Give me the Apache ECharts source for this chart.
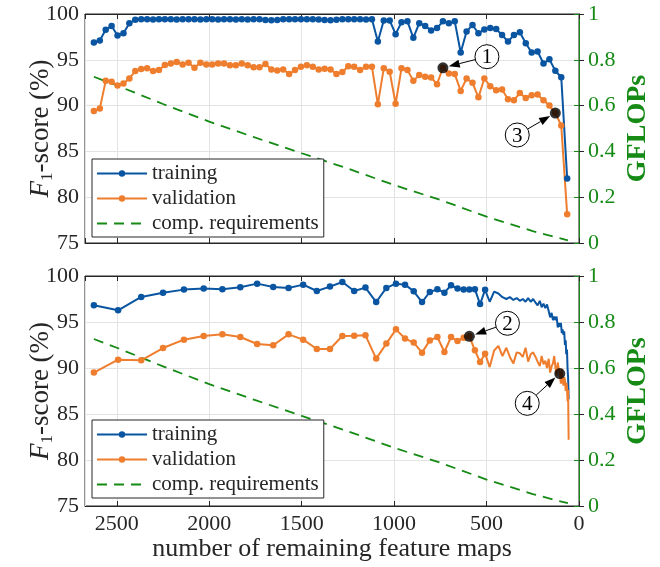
<!DOCTYPE html>
<html><head><meta charset="utf-8">
<script src="https://cdn.jsdelivr.net/npm/echarts@6/dist/echarts.min.js"></script>
<style>html,body{margin:0;padding:0;background:#fff}#c{width:660px;height:567px}</style>
</head><body><div id="c"></div>
<script>
// ---------- data ----------
const topX = [2624,2592,2560,2528,2496,2464,2432,2400,2368,2336,2304,2272,2240,2208,2176,2144,2112,2080,2048,2016,1984,1952,1920,1888,1856,1824,1792,1760,1728,1696,1664,1632,1600,1568,1536,1504,1472,1440,1408,1376,1344,1312,1280,1248,1216,1184,1152,1120,1088,1056,1024,992,960,928,896,864,832,800,768,736,704,672,640,608,576,544,512,480,448,416,384,352,320,288,256,224,192,160,128,96,64];
const topTrain = [96.88,97.1,98.27,98.7,97.65,97.9,99.0,99.37,
  99.42,99.42,99.4,99.42,99.42,99.42,99.4,99.42,99.42,99.42,
  99.4,99.42,99.42,99.4,99.42,99.42,99.4,99.42,99.4,99.42,
  99.42,99.35,99.33,99.35,99.42,99.42,99.42,99.42,99.42,99.42,
  99.4,99.35,99.33,99.38,99.42,99.42,99.42,99.42,99.4,99.42,
  97.0,99.3,99.3,97.8,99.1,99.2,97.4,99.0,98.7,98.2,
  98.46,99.2,99.0,99.2,95.8,98.1,98.8,97.9,98.3,98.46,
  98.35,97.7,97.0,97.7,98.0,96.8,95.8,95.9,94.6,95.05,
  93.8,93.1,82.05];
const topVal = [89.4,89.67,92.7,92.6,92.2,92.4,92.96,93.77,93.99,94.07,
  93.77,93.88,94.43,94.6,94.76,94.5,94.68,94.13,94.68,94.5,
  94.5,94.6,94.6,94.4,94.4,94.6,94.4,94.18,94.18,94.54,
  93.95,93.84,93.95,93.44,93.88,94.24,94.4,94.24,93.95,94.02,
  93.95,93.44,93.66,94.3,94.24,93.88,94.24,94.24,
  90.14,94.07,93.7,90.2,94.07,93.88,92.7,93.33,93.14,93.07,
  92.34,94.13,93.5,93.44,91.6,92.96,92.49,90.9,92.96,92.12,
  91.68,91.76,90.7,90.58,91.38,90.84,91.13,91.2,90.58,90.0,
  89.19,87.83,78.13];

const botX = [2624,2493,2368,2250,2137,2030,1929,1832,1741,1654,1571,1492,1418,1347,1280,1216,1155,1097,1042,990,941,894,849,807,766,728,692,657,624,593,563,535,508,483,459,436,414,393,374,355,337,320,304,289,275,261,248,235,224,212,202,192,182,173,164,156,148,141,134,127,121,115,109,104,98,93,89,84,80,76,72,69,65,62,59,56];
const botTrain = [96.81,96.27,97.72,98.19,98.52,98.63,98.55,98.77,99.17,98.8,
  98.7,99.06,98.37,98.85,99.35,98.37,98.74,97.17,98.7,99.17,
  99.06,98.34,97.17,98.26,98.55,98.19,98.99,98.63,98.52,98.52,
  98.55,96.95,98.5,97.2,98.3,98.1,97.7,97.5,97.7,97.4,
  97.6,97.3,97.5,97.2,97.6,97.2,97.5,97.1,96.8,97.3,
  96.6,97.0,96.5,96.9,96.2,95.5,96.0,95.2,95.6,95.2,
  95.6,94.4,94.9,94.5,94.9,93.8,94.2,93.6,94.0,92.5,
  93.0,91.5,92.0,90.0,89.0,86.6];
const botVal = [89.5,90.91,90.84,92.17,93.08,93.48,93.66,93.37,92.61,92.47,
  93.66,93.08,92.07,92.07,93.48,93.5,93.55,91.02,92.65,94.2,
  93.2,92.76,91.67,93.0,93.37,91.74,93.37,92.93,93.3,93.44,
  91.92,90.65,91.56,90.1,91.9,92.4,91.3,92.2,91.2,90.5,
  91.7,91.6,91.2,92.2,90.7,91.5,91.7,91.2,90.7,90.2,
  91.3,90.4,90.8,90.0,91.0,89.5,90.2,90.5,91.3,90.0,
  89.2,90.6,89.8,89.4,88.3,89.9,88.7,88.1,89.0,88.7,
  87.5,88.4,87.9,86.4,87.6,82.2];

const compX = [2624,2500,2250,2000,1750,1500,1250,1000,750,500,250,110,60];
const compG = [0.726,0.688,0.607,0.530,0.460,0.392,0.325,0.253,0.188,0.115,0.052,0.022,0.012];

const seriesNames = ['training','validation','comp. requirements'];

// annotations (data coordinates)
const annGrid = [0,1,0,1];
const annNum  = ['1','2','3','4'];
const annDotX = [736,593,128,104];
const annDotY = [94.13,93.44,89.19,89.4];
const annLabX = [498,387,334,280];
const annLabY = [95.34,94.86,86.79,86.16];

// ---------- chart ----------
const FONT = 'Liberation Serif';
const BLUE = '#0a55a1', ORANGE = '#ee7e2e', GREEN = '#158a15', INK = '#262626', GRIDC = '#e3e3e3';
const zip = (xs, ys) => xs.map((x,i)=>[x, ys[i]]);

const chart = echarts.init(document.getElementById('c'));
const grids = [{left:85, right:77, top:14, height:229, show:true, borderColor:INK, borderWidth:1},
               {left:85, right:77, top:276, height:230, show:true, borderColor:INK, borderWidth:1}];

function xAx(g, pos, labels){
  return {type:'value', gridIndex:g, position:pos, min:0, max:2672, interval:500, inverse:true,
    axisLine:{show:true, onZero:false, lineStyle:{color:INK, width:1}},
    axisTick:{show:true, inside:true, length:5, lineStyle:{color:INK}},
    axisLabel:{show:labels, showMaxLabel:false, fontFamily:FONT, fontSize:22, color:INK, margin:7,
      formatter: v => String(v)},
    splitLine:{show: pos==='bottom', lineStyle:{color:GRIDC, width:1}},
    name: (labels ? 'number of remaining feature maps' : ''), nameLocation:'middle', nameGap:30,
    nameMoveOverlap:false,
    nameTextStyle:{fontFamily:FONT, fontSize:26, color:INK}};
}
function yLeft(g){
  return {type:'value', gridIndex:g, position:'left', min:75, max:100, interval:5,
    axisLine:{show:true, lineStyle:{color:INK}},
    axisTick:{show:true, inside:true, length:5, lineStyle:{color:INK}},
    axisLabel:{fontFamily:FONT, fontSize:22, color:INK, margin:6},
    splitLine:{show:true, lineStyle:{color:GRIDC, width:1}},
    name:'{i|F}{s|1}-score (%)', nameLocation:'middle', nameGap:29, nameRotate:90,
    nameMoveOverlap:false,
    nameTextStyle:{fontFamily:FONT, fontSize:27, color:INK,
      rich:{i:{fontFamily:FONT, fontSize:27, fontStyle:'italic', color:INK},
            s:{fontFamily:FONT, fontSize:17, color:INK, padding:[14,0,0,0]}}}};
}
function yRight(g){
  return {type:'value', gridIndex:g, position:'right', min:0, max:1, interval:0.2,
    axisLine:{show:true, lineStyle:{color:GREEN}},
    axisTick:{show:true, inside:true, length:5, lineStyle:{color:GREEN}},
    axisLabel:{fontFamily:FONT, fontSize:22, color:GREEN, margin:9},
    splitLine:{show:false},
    name:'GFLOPs', nameLocation:'middle', nameGap:45, nameRotate:90,
    nameMoveOverlap:false,
    nameTextStyle:{fontFamily:FONT, fontSize:28, fontWeight:'bold', color:GREEN}};
}

function lineSeries(name, xi, yi, data, color, symFn){
  return {name, type:'line', xAxisIndex:xi, yAxisIndex:yi, data, color,
    symbol:'circle', symbolSize: symFn, showSymbol:true, showAllSymbol:true,
    lineStyle:{width:2, color}, itemStyle:{color}, z:3, animation:false, silent:true};
}
function compSeries(xi, yi){
  return {name:seriesNames[2], type:'line', xAxisIndex:xi, yAxisIndex:yi, data:zip(compX, compG),
    symbol:'none', color:GREEN, lineStyle:{width:1.8, type:[10,7], color:GREEN}, itemStyle:{color:GREEN},
    z:2, animation:false, silent:true};
}
function legendAt(top){
  return {show:true, left:92, top, orient:'vertical', selectedMode:false,
    data:[seriesNames[0], seriesNames[1], {name:seriesNames[2], itemStyle:{opacity:0}}],
    itemWidth:50, itemHeight:8, itemGap:4, padding:[4,5,3,4],
    borderColor:INK, borderWidth:1, backgroundColor:'#fff',
    textStyle:{fontFamily:FONT, fontSize:21, color:INK, lineHeight:20}};
}

const option = {
  animation:false,
  grid: grids,
  xAxis: [xAx(0,'bottom',false), xAx(1,'bottom',true), xAx(0,'top',false), xAx(1,'top',false)],
  yAxis: [yLeft(0), yRight(0), yLeft(1), yRight(1)],
  legend: [legendAt(159), legendAt(420)],
  series: [
    lineSeries(seriesNames[0], 0, 0, zip(topX, topTrain), BLUE, 6.5),
    lineSeries(seriesNames[1], 0, 0, zip(topX, topVal), ORANGE, 6.5),
    compSeries(0, 1),
    lineSeries(seriesNames[0], 1, 2, zip(botX, botTrain), BLUE, v => (v[0] >= 500 ? 6.5 : 0)),
    lineSeries(seriesNames[1], 1, 2, zip(botX, botVal), ORANGE, v => (v[0] >= 500 ? 6.5 : 0)),
    compSeries(1, 3),
    {type:'scatter', name:'ann0', xAxisIndex:0, yAxisIndex:0, symbolSize:11, itemStyle:{color:'#000'}, z:10,
     data: annDotX.map((x,i)=>[x, annDotY[i], i]).filter((d)=>annGrid[d[2]]===0), silent:true},
    {type:'scatter', name:'ann1', xAxisIndex:1, yAxisIndex:2, symbolSize:11, itemStyle:{color:'#000'}, z:10,
     data: annDotX.map((x,i)=>[x, annDotY[i], i]).filter((d)=>annGrid[d[2]]===1), silent:true}
  ]
};
chart.setOption(option);

// annotation circles + arrows
const els = [];
for (let i = 0; i < annNum.length; i++) {
  const finder = {seriesIndex: 6 + annGrid[i]};
  const D = chart.convertToPixel(finder, [annDotX[i], annDotY[i]]);
  const C = chart.convertToPixel(finder, [annLabX[i], annLabY[i]]);
  const dx = D[0]-C[0], dy = D[1]-C[1], L = Math.hypot(dx, dy), ux = dx/L, uy = dy/L;
  const r = 12;
  const S = [C[0]+ux*r, C[1]+uy*r];
  const T = [D[0]-ux*6, D[1]-uy*6];
  const ah = 11, aw = 4;
  const B = [T[0]-ux*ah, T[1]-uy*ah];
  els.push({type:'line', z:100, shape:{x1:S[0], y1:S[1], x2:B[0], y2:B[1]}, style:{stroke:'#000', lineWidth:1}});
  els.push({type:'polygon', z:100, shape:{points:[T, [B[0]-uy*aw, B[1]+ux*aw], [B[0]+uy*aw, B[1]-ux*aw]]}, style:{fill:'#000'}});
  els.push({type:'circle', z:100, shape:{cx:C[0], cy:C[1], r}, style:{fill:'#fff', stroke:'#000', lineWidth:1}});
  els.push({type:'text', z:101, x:C[0], y:C[1]+1, style:{text:annNum[i], font:'21px "Liberation Serif"', fill:'#000', align:'center', verticalAlign:'middle'}});
}
chart.setOption({graphic: els});
</script>
</body></html>
